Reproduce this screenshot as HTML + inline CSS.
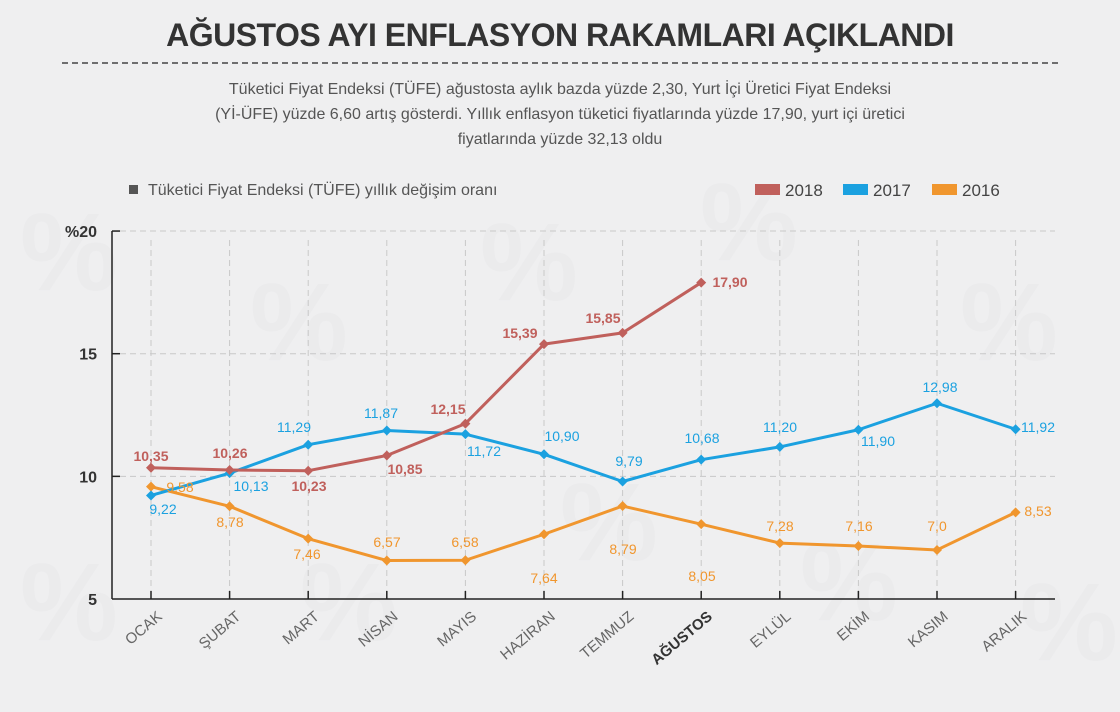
<!DOCTYPE html>
<html><head><meta charset="utf-8"><style>
body{margin:0;width:1120px;height:712px;background:#efeff0;font-family:"Liberation Sans",sans-serif;overflow:hidden}
svg{position:absolute;left:0;top:0}
</style></head><body>
<svg width="1120" height="712" xmlns="http://www.w3.org/2000/svg" font-family="Liberation Sans, sans-serif">
<g fill="#e9e9eb" font-size="110" font-weight="bold" opacity="0.6">
<text x="20" y="290">%</text><text x="250" y="360">%</text><text x="480" y="300">%</text><text x="700" y="260">%</text><text x="960" y="360">%</text>
<text x="20" y="640">%</text><text x="300" y="640">%</text><text x="560" y="560">%</text><text x="800" y="620">%</text><text x="1020" y="660">%</text>
</g>
<text x="560" y="46" text-anchor="middle" font-size="32" font-weight="bold" fill="#333" letter-spacing="-0.5">AĞUSTOS AYI ENFLASYON RAKAMLARI AÇIKLANDI</text>
<line x1="62" y1="63" x2="1058" y2="63" stroke="#444" stroke-width="1.5" stroke-dasharray="6,4"/>
<g font-size="16" fill="#555" text-anchor="middle">
<text x="560" y="94">Tüketici Fiyat Endeksi (TÜFE) ağustosta aylık bazda yüzde 2,30, Yurt İçi Üretici Fiyat Endeksi</text>
<text x="560" y="119">(Yİ-ÜFE) yüzde 6,60 artış gösterdi. Yıllık enflasyon tüketici fiyatlarında yüzde 17,90, yurt içi üretici</text>
<text x="560" y="144">fiyatlarında yüzde 32,13 oldu</text>
</g>
<rect x="129" y="185" width="9" height="9" fill="#555"/>
<text x="148" y="195" font-size="16" fill="#555">Tüketici Fiyat Endeksi (TÜFE) yıllık değişim oranı</text>
<rect x="755" y="184" width="25" height="11" fill="#c0605c"/><text x="785" y="196" font-size="17" fill="#444">2018</text>
<rect x="843" y="184" width="25" height="11" fill="#1ba1e0"/><text x="873" y="196" font-size="17" fill="#444">2017</text>
<rect x="932" y="184" width="25" height="11" fill="#f0962e"/><text x="962" y="196" font-size="17" fill="#444">2016</text>
<g id="grid"></g>
<g id="chart"></g>
</svg>
<script>
var NS="http://www.w3.org/2000/svg";
function el(t,a,p,txt){var e=document.createElementNS(NS,t);for(var k in a)e.setAttribute(k,a[k]);if(txt!==undefined)e.textContent=txt;(p||document.getElementById('chart')).appendChild(e);return e;}
function X(i){return 151+i*78.6;}
function Y(v){return 599-(v-5)*24.53;}
var g=document.getElementById('grid');
[20,15,10].forEach(function(v){el('line',{x1:120,y1:Y(v),x2:1055,y2:Y(v),stroke:'#c8c8c8','stroke-dasharray':'6,4','stroke-width':1},g);el('line',{x1:112,y1:Y(v),x2:120,y2:Y(v),stroke:'#222','stroke-width':1.5},g);});
[['%20',20],['15',15],['10',10],['5',5]].forEach(function(a){el('text',{x:97,y:Y(a[1])+6,'text-anchor':'end','font-size':16,'font-weight':'bold',fill:'#333'},g,a[0]);});
var months=['OCAK','ŞUBAT','MART','NİSAN','MAYIS','HAZİRAN','TEMMUZ','AĞUSTOS','EYLÜL','EKİM','KASIM','ARALIK'];
for(var i=0;i<12;i++){el('line',{x1:X(i),y1:240,x2:X(i),y2:599,stroke:'#c8c8c8','stroke-dasharray':'6,4'},g);
el('line',{x1:X(i),y1:591,x2:X(i),y2:599,stroke:'#222','stroke-width':1.5},g);
el('text',{x:X(i)+12,y:618,'text-anchor':'end','font-size':15,fill:i==7?'#333':'#666','font-weight':i==7?'bold':'normal',transform:'rotate(-40 '+(X(i)+12)+' 618)'},g,months[i]);}
el('line',{x1:112,y1:231,x2:112,y2:599,stroke:'#222','stroke-width':1.5},g);
el('line',{x1:112,y1:599,x2:1055,y2:599,stroke:'#222','stroke-width':1.5},g);
function series(d,c){var p=d.map(function(v,i){return X(i)+','+Y(v)}).join(' ');el('polyline',{points:p,fill:'none',stroke:c,'stroke-width':3,'stroke-linejoin':'round'});
d.forEach(function(v,i){var x=X(i),y=Y(v);el('polygon',{points:(x)+','+(y-5)+' '+(x+5)+','+y+' '+x+','+(y+5)+' '+(x-5)+','+y,fill:c});});}
series([9.58,8.78,7.46,6.57,6.58,7.64,8.79,8.05,7.28,7.16,7.0,8.53],'#f0962e');
series([9.22,10.13,11.29,11.87,11.72,10.90,9.79,10.68,11.20,11.90,12.98,11.92],'#1ba1e0');
series([10.35,10.26,10.23,10.85,12.15,15.39,15.85,17.90],'#c0605c');
function lab(arr,c,b){arr.forEach(function(a){el('text',{x:a[1],y:a[2],'text-anchor':'middle','font-size':14,fill:c,'font-weight':b?'bold':'normal'},undefined,a[0]);});}
lab([['10,35',151,461],['10,26',230,458],['10,23',309,491],['10,85',405,474],['12,15',448,414],['15,39',520,338],['15,85',603,323],['17,90',730,287]],'#c0605c',true);
lab([['9,22',163,514],['10,13',251,491],['11,29',294,432],['11,87',381,418],['11,72',484,456],['10,90',562,441],['9,79',629,466],['10,68',702,443],['11,20',780,432],['11,90',878,446],['12,98',940,392],['11,92',1038,432]],'#1ba1e0',false);
lab([['9,58',180,492],['8,78',230,527],['7,46',307,559],['6,57',387,547],['6,58',465,547],['7,64',544,583],['8,79',623,554],['8,05',702,581],['7,28',780,531],['7,16',859,531],['7,0',937,531],['8,53',1038,516]],'#f0962e',false);
</script>
</body></html>
